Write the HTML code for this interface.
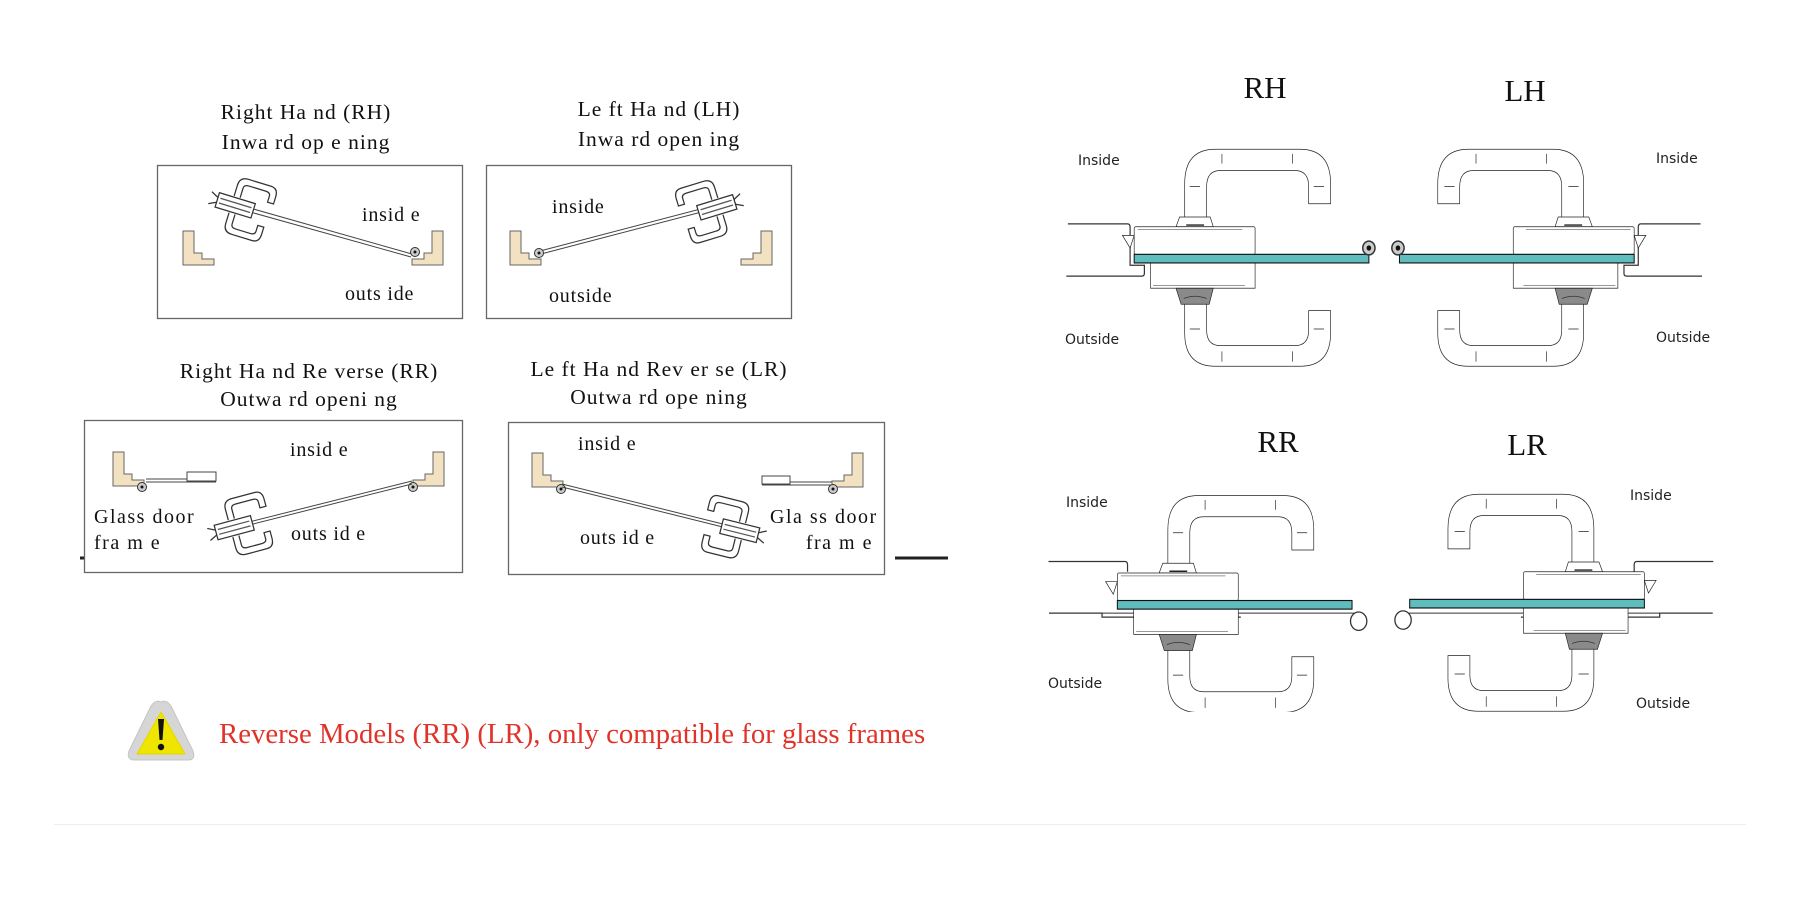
<!DOCTYPE html>
<html><head><meta charset="utf-8"><style>
html,body{margin:0;padding:0;background:#fff;}
svg{display:block}
.ser{font-family:"Liberation Serif",serif;fill:#111}
.sans{font-family:"DejaVu Sans","Liberation Sans",sans-serif;fill:#222;font-size:14px}
.z *{vector-effect:non-scaling-stroke}
</style></head><body>
<svg width="1800" height="900" viewBox="0 0 1800 900" xmlns="http://www.w3.org/2000/svg">
<defs>
  <g id="hdl" fill="#fff" stroke="#222" stroke-width="1.3">
    <path d="M362,378 L362,320 Q362,260 422,260 L588,260 Q648,260 648,320 L648,355 L605,355 L605,325 Q605,297 578,297 L432,297 Q405,297 405,325 L405,378"/>
    <path d="M435,268 V285 M573,268 V285 M372,325 H392 M615,325 H635" fill="none"/>
    <path d="M362,530 L362,580 Q362,638 422,638 L588,638 Q648,638 648,580 L648,541 L605,541 L605,575 Q605,602 578,602 L432,602 Q405,602 405,575 L405,530"/>
    <path d="M435,612 V630 M573,612 V630 M372,573 H392 M615,573 H635" fill="none"/>
    <path d="M345,395 L352,378 L412,378 L418,395 Z"/>
    <path d="M365,392 H400" stroke-width="2.5"/>
    <rect x="263" y="395" width="237" height="48" rx="3"/>
    <path d="M270,400 H475" stroke="#777"/>
    <path d="M240,410 L263,410 L255,432 Z"/>
    <rect x="295" y="458" width="205" height="44"/>
    <path d="M300,497 H480" stroke="#777"/>
    <path d="M345,502 L418,502 L410,530 L355,530 Z" fill="#8a8a8a"/>
    <path d="M360,520 Q382,512 405,520" fill="none" stroke="#333"/>
    <rect x="263" y="443" width="460" height="15" fill="#5fbdbd" stroke="#111" stroke-width="2"/>
  </g>
  <g id="sh" fill="#fff" stroke="#333" stroke-width="1">
    <path d="M-2,-7 V-16 Q-2,-23 5,-23 H24 Q30,-23 30,-16 V-10 H25 V-15 Q25,-18 21,-18 H7 Q3,-18 3,-15 V-7"/>
    <path d="M-2,7 V16 Q-2,23 5,23 H22 Q28,23 28,16 V10 H23 V15 Q23,18 19,18 H7 Q3,18 3,15 V7"/>
    <rect x="-14" y="-6" width="30" height="12"/>
    <path d="M-12,-2 H14 M-12,2 H14" stroke="#555"/>
    <path d="M-20,-5 L-14,-2 M-20,5 L-14,2"/>
  </g>
  <path id="frL" d="M0,0 H11 V22 H19 V28 H31 V34 H0 Z" fill="#f3e2c2" stroke="#666" stroke-width="1"/>
</defs>

<g class="ser" font-size="21.5" text-anchor="middle">
  <text x="306" y="119" letter-spacing="1">Right Ha nd  (RH)</text>
  <text x="306" y="149" letter-spacing="1">Inwa rd op e ning</text>
  <text x="659" y="116" letter-spacing="1">Le ft Ha nd  (LH)</text>
  <text x="659" y="146" letter-spacing="1">Inwa rd open  ing</text>
  <text x="309" y="378" letter-spacing="1">Right Ha nd Re verse   (RR)</text>
  <text x="309" y="406" letter-spacing="1">Outwa rd openi ng</text>
  <text x="659" y="376" letter-spacing="1">Le ft Ha nd  Rev er se  (LR)</text>
  <text x="659" y="404" letter-spacing="1">Outwa rd ope ning</text>
</g>

<g fill="none" stroke="#666" stroke-width="1.3">
  <rect x="157.5" y="165.5" width="305" height="153"/>
  <rect x="486.5" y="165.5" width="305" height="153"/>
  <rect x="84.5" y="420.5" width="378" height="152"/>
  <rect x="508.5" y="422.5" width="376" height="152"/>
</g>
<path d="M895,558 H948" stroke="#222" stroke-width="3"/>
<path d="M80,558 H84" stroke="#222" stroke-width="3"/>

<use href="#frL" x="183" y="231"/>
<use href="#frL" transform="translate(443,231) scale(-1,1)"/>
<path d="M218,199 L412,254 M218,203 L411,257" stroke="#444" stroke-width="1"/>
<circle cx="415" cy="252" r="4.5" fill="#ccc" stroke="#333"/><circle cx="415" cy="252" r="1.5" fill="#111"/>
<use href="#sh" transform="translate(234,205) rotate(17) scale(1.25)"/>
<use href="#frL" x="510" y="231"/>
<use href="#frL" transform="translate(772,231) scale(-1,1)"/>
<path d="M540,251 L735,200 M541,254 L736,203" stroke="#444" stroke-width="1"/>
<circle cx="539" cy="253" r="4.5" fill="#ccc" stroke="#333"/><circle cx="539" cy="253" r="1.5" fill="#111"/>
<use href="#sh" transform="translate(718,207) rotate(-17) scale(-1.25,1.25)"/>
<use href="#frL" x="113" y="452"/>
<use href="#frL" transform="translate(444,452) scale(-1,1)"/>
<path d="M146,479 H216 M146,482 H216" stroke="#444"/>
<rect x="187" y="472" width="29" height="9" fill="#fff" stroke="#444"/>
<circle cx="142" cy="487" r="4.5" fill="#ccc" stroke="#333"/><circle cx="142" cy="487" r="1.5" fill="#111"/>
<circle cx="413" cy="487" r="4.5" fill="#ccc" stroke="#333"/><circle cx="413" cy="487" r="1.5" fill="#111"/>
<path d="M412,481 L225,528 M412,484 L225,531" stroke="#444"/>
<use href="#sh" transform="translate(233,528) rotate(-15) scale(1.25)"/>
<use href="#frL" x="532" y="453"/>
<use href="#frL" transform="translate(863,453) scale(-1,1)"/>
<path d="M762,482 H832 M762,485 H832" stroke="#444"/>
<rect x="762" y="476" width="28" height="8" fill="#fff" stroke="#444"/>
<circle cx="561" cy="489" r="4.5" fill="#ccc" stroke="#333"/><circle cx="561" cy="489" r="1.5" fill="#111"/>
<circle cx="833" cy="489" r="4.5" fill="#ccc" stroke="#333"/><circle cx="833" cy="489" r="1.5" fill="#111"/>
<path d="M562,484 L755,532 M562,487 L755,535" stroke="#444"/>
<use href="#sh" transform="translate(741,531) rotate(14) scale(-1.25,1.25)"/>

<g class="ser" font-size="20" letter-spacing="0.8">
  <text x="362" y="221">insid e</text>
  <text x="345" y="300">outs ide</text>
  <text x="552" y="213">inside</text>
  <text x="549" y="302">outside</text>
  <text x="290" y="456">insid e</text>
  <text x="291" y="540">outs id e</text>
  <text x="94" y="523" letter-spacing="1.5">Glass door</text>
  <text x="94" y="549" letter-spacing="1.5">fra m e</text>
  <text x="578" y="450">insid e</text>
  <text x="580" y="544">outs id e</text>
  <text x="770" y="523" letter-spacing="1.5">Gla ss door</text>
  <text x="873" y="549" letter-spacing="1.5" text-anchor="end">fra m e</text>
</g>

<path d="M161,702 Q156,699 151,706 L129,751 Q126,760 135,760 L188,760 Q196,760 193,751 L171,706 Q166,699 161,702 Z" fill="#d6d6d6" stroke="#c4c4c4"/>
<path d="M161,712 L137,754 L185,754 Z" fill="#f0e500" stroke="#e2d800" stroke-linejoin="round"/>
<path d="M158,719 L164,719 L162.5,740 L159.5,740 Z" fill="#111"/>
<circle cx="161" cy="747" r="3.2" fill="#111"/>
<text x="219" y="743" font-family="Liberation Serif,serif" font-size="28.8" fill="#e0332a">Reverse Models (RR) (LR), only compatible for glass frames</text>

<path d="M54,824.5 H1746" stroke="#eeeeee" stroke-width="1"/>

<g class="z" transform="translate(1000,0) scale(0.5102,0.5741)">
  <path d="M133,390 H250 Q255,390 255,396 V462 H283 V476 Q283,481 278,481 H130" fill="none" stroke="#333" stroke-width="1.2"/>
  <use href="#hdl"/>
  <circle cx="723" cy="432" r="12" fill="#ccc" stroke="#333" stroke-width="1.5"/><circle cx="723" cy="432" r="4.5" fill="#111"/>
  <g transform="translate(1506,0) scale(-1,1)">
    <path d="M133,390 H250 Q255,390 255,396 V462 H283 V476 Q283,481 278,481 H130" fill="none" stroke="#333" stroke-width="1.2"/>
    <use href="#hdl"/>
    <circle cx="726" cy="432" r="12" fill="#ccc" stroke="#333" stroke-width="1.5"/><circle cx="726" cy="432" r="4.5" fill="#111"/>
  </g>
  <g>
    <clipPath id="cp1"><rect x="0" y="800" width="1560" height="440"/></clipPath>
    <g clip-path="url(#cp1)">
      <path d="M95,978 H245 Q250,978 250,984 V996 M96,1068 H200 V1075 H472" fill="none" stroke="#333" stroke-width="1.2"/>
      <path d="M200,1068 H705" stroke="#333"/>
      <g transform="translate(-33,603)"><use href="#hdl"/></g>
      <circle cx="703" cy="1082" r="16" fill="#fff" stroke="#333" stroke-width="1.3"/>
      <g transform="translate(1493,0) scale(-1,1)">
        <path d="M95,978 H245 Q250,978 250,984 V996 M96,1068 H200 V1075 H472" fill="none" stroke="#333" stroke-width="1.2"/>
        <path d="M200,1068 H705" stroke="#333"/>
        <g transform="translate(-33,601)"><use href="#hdl"/></g>
        <circle cx="703" cy="1080" r="16" fill="#fff" stroke="#333" stroke-width="1.3"/>
      </g>
    </g>
  </g>
</g>

<g class="ser" font-size="31" text-anchor="middle">
  <text x="1265" y="98">RH</text>
  <text x="1525" y="101">LH</text>
  <text x="1278" y="452">RR</text>
  <text x="1527" y="455">LR</text>
</g>
<g class="sans">
  <text x="1078" y="165">Inside</text>
  <text x="1065" y="344">Outside</text>
  <text x="1656" y="163">Inside</text>
  <text x="1656" y="342">Outside</text>
  <text x="1066" y="507">Inside</text>
  <text x="1048" y="688">Outside</text>
  <text x="1630" y="500">Inside</text>
  <text x="1636" y="708">Outside</text>
</g>
</svg>
</body></html>
